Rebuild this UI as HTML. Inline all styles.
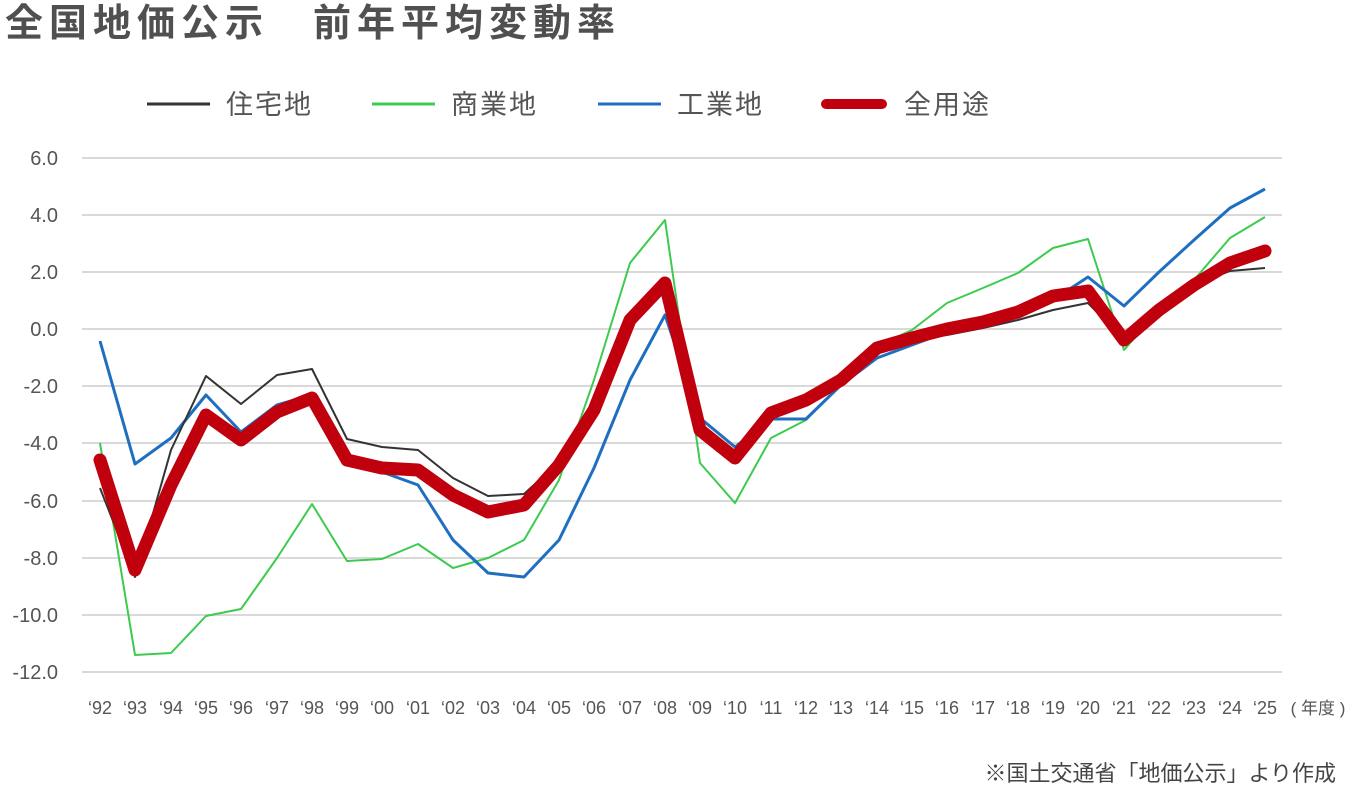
<!DOCTYPE html>
<html><head><meta charset="utf-8"><style>
body{margin:0;background:#fff;width:1352px;height:786px;overflow:hidden;font-family:"Liberation Sans","Noto Sans CJK JP",sans-serif}
</style></head><body>
<svg width="1352" height="786" xmlns="http://www.w3.org/2000/svg" font-family="Liberation Sans, Noto Sans CJK JP, sans-serif">
<text x="5" y="36" font-size="38" font-weight="bold" fill="#505050" letter-spacing="6">全国地価公示　前年平均変動率</text>
<g font-size="27" fill="#555" letter-spacing="2">
<line x1="147" y1="104" x2="210" y2="104" stroke="#333" stroke-width="3"/><text x="226" y="114">住宅地</text>
<line x1="372" y1="104" x2="435" y2="104" stroke="#3ccb4e" stroke-width="3"/><text x="451" y="114">商業地</text>
<line x1="598" y1="104" x2="661" y2="104" stroke="#1f6fc1" stroke-width="3"/><text x="677" y="114">工業地</text>
<line x1="826" y1="104" x2="882" y2="104" stroke="#c0000c" stroke-width="10" stroke-linecap="round"/><text x="904" y="114">全用途</text>
</g>
<g stroke="#d9d9d9" stroke-width="2">
<line x1="82" x2="1282" y1="158" y2="158"/><line x1="82" x2="1282" y1="215" y2="215"/><line x1="82" x2="1282" y1="272" y2="272"/><line x1="82" x2="1282" y1="329" y2="329"/><line x1="82" x2="1282" y1="386" y2="386"/><line x1="82" x2="1282" y1="443" y2="443"/><line x1="82" x2="1282" y1="501" y2="501"/><line x1="82" x2="1282" y1="558" y2="558"/><line x1="82" x2="1282" y1="615" y2="615"/><line x1="82" x2="1282" y1="672" y2="672"/>
</g>
<g font-size="20" fill="#555" text-anchor="end">
<text x="58" y="165">6.0</text><text x="58" y="222">4.0</text><text x="58" y="279">2.0</text><text x="58" y="336">0.0</text><text x="58" y="393">-2.0</text><text x="58" y="450">-4.0</text><text x="58" y="508">-6.0</text><text x="58" y="565">-8.0</text><text x="58" y="622">-10.0</text><text x="58" y="679">-12.0</text>
</g>
<g font-size="18" fill="#555" text-anchor="middle">
<text x="100" y="714">‘92</text><text x="135" y="714">‘93</text><text x="171" y="714">‘94</text><text x="206" y="714">‘95</text><text x="241" y="714">‘96</text><text x="277" y="714">‘97</text><text x="312" y="714">‘98</text><text x="347" y="714">‘99</text><text x="382" y="714">‘00</text><text x="418" y="714">‘01</text><text x="453" y="714">‘02</text><text x="488" y="714">‘03</text><text x="524" y="714">‘04</text><text x="559" y="714">‘05</text><text x="594" y="714">‘06</text><text x="630" y="714">‘07</text><text x="665" y="714">‘08</text><text x="700" y="714">‘09</text><text x="735" y="714">‘10</text><text x="771" y="714">‘11</text><text x="806" y="714">‘12</text><text x="841" y="714">‘13</text><text x="877" y="714">‘14</text><text x="912" y="714">‘15</text><text x="947" y="714">‘16</text><text x="983" y="714">‘17</text><text x="1018" y="714">‘18</text><text x="1053" y="714">‘19</text><text x="1088" y="714">‘20</text><text x="1124" y="714">‘21</text><text x="1159" y="714">‘22</text><text x="1194" y="714">‘23</text><text x="1230" y="714">‘24</text><text x="1265" y="714">‘25</text>
<text x="1318" y="714" font-size="17">( 年度 )</text>
</g>
<text x="1336" y="781" font-size="22" fill="#444" text-anchor="end">※国土交通省「地価公示」より作成</text>
<g fill="none" stroke-linejoin="round">
<polyline stroke="#3ccb4e" stroke-width="2" points="100,443 135,655 171,653 206,616 241,609 277,558 312,504 347,561 382,559 418,544 453,568 488,558 524,540 559,480 594,380 630,263 665,220 700,463 735,503 771,438 806,420 841,384 877,346 912,330 947,303 983,288 1018,273 1053,248 1088,239 1124,350 1159,310 1194,280 1230,238 1265,217"/>
<polyline stroke="#1f6fc1" stroke-width="3" points="100,341 135,464 171,438 206,395 241,432 277,405 312,395 347,460 382,472 418,485 453,540 488,573 524,577 559,540 594,468 630,380 665,315 700,418 735,447 771,419 806,419 841,385 877,358 912,345 947,332 983,324 1018,316 1053,300 1088,277 1124,306 1159,272 1194,240 1230,208 1265,189"/>
<polyline stroke="#333" stroke-width="2" points="100,488 135,577 171,450 206,376 241,404 277,375 312,369 347,439 382,447 418,450 453,478 488,496 524,494 559,462 594,405 630,322 665,290 700,425 735,455 771,408 806,397 841,380 877,348 912,340 947,335 983,328 1018,320 1053,310 1088,303 1124,340 1159,310 1194,285 1230,271 1265,268"/>
<polyline stroke="#c0000c" stroke-width="13" stroke-linecap="round" points="100,460 135,570 171,485 206,415 241,440 277,412 312,398 347,460 382,468 418,470 453,495 488,512 524,505 559,465 594,410 630,320 665,283 700,430 735,458 771,413 806,400 841,380 877,348 912,338 947,329 983,322 1018,312 1053,296 1088,291 1124,340 1159,310 1194,285 1230,263 1265,251"/>
</g>
</svg>
</body></html>
